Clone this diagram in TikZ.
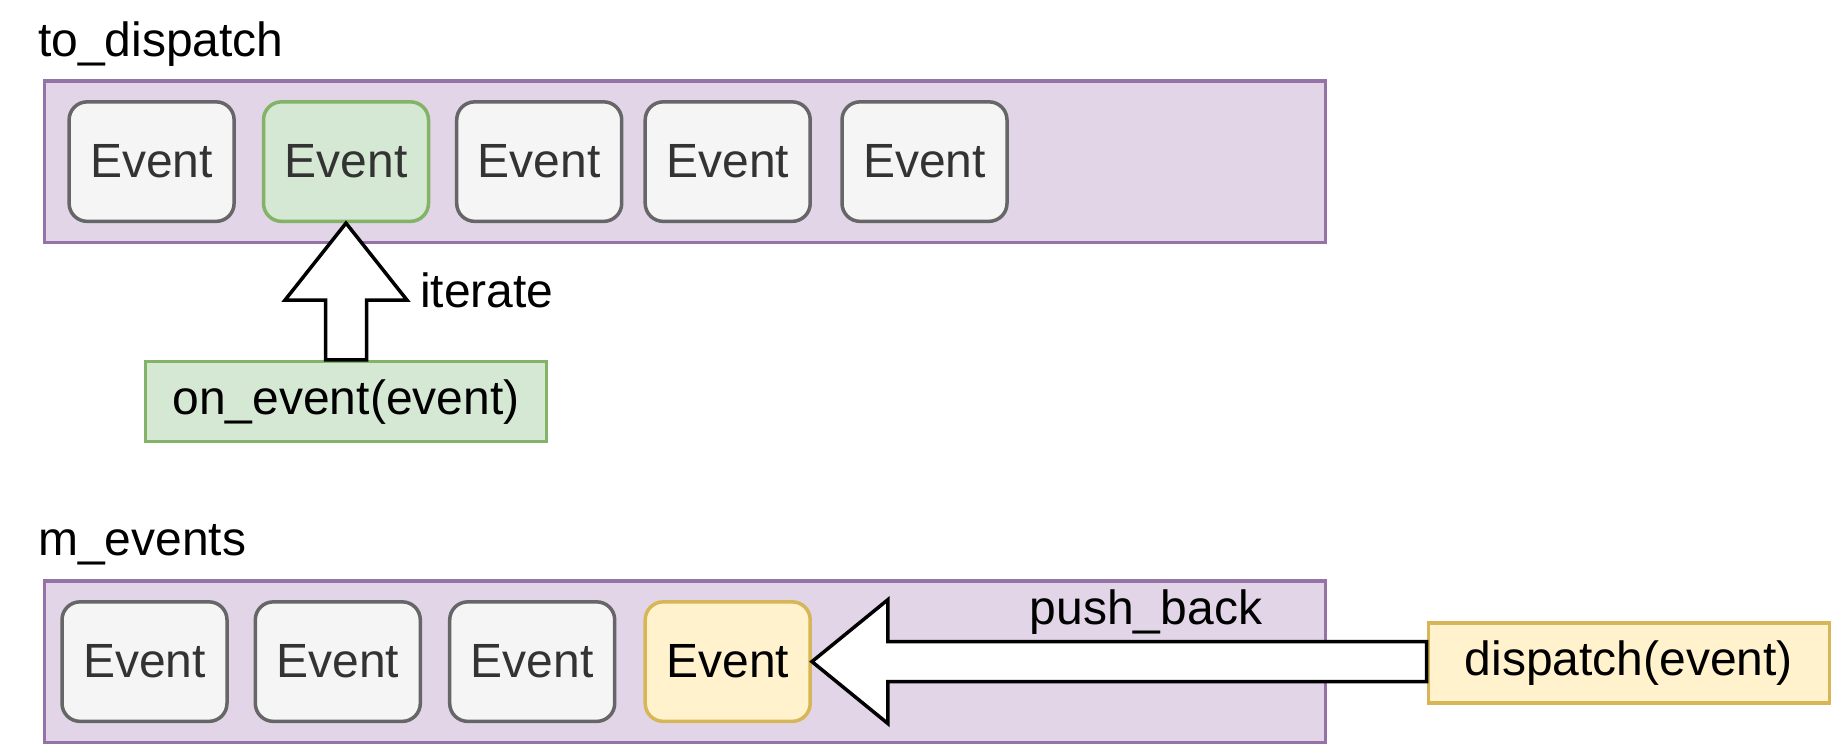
\documentclass[tikz,border=0pt]{standalone}
\usepackage{fontspec}
\setmainfont{Liberation Sans}
\usetikzlibrary{calc}
\definecolor{purpleS}{HTML}{9673A6}
\definecolor{purpleF}{HTML}{E1D5E7}
\definecolor{grayS}{HTML}{666666}
\definecolor{grayF}{HTML}{F5F5F5}
\definecolor{grayT}{HTML}{333333}
\definecolor{greenS}{HTML}{82B366}
\definecolor{greenF}{HTML}{D5E8D4}
\definecolor{yellowS}{HTML}{D6B656}
\definecolor{yellowF}{HTML}{FFF2CC}
\begin{document}
\begin{tikzpicture}[x=1pt,y=-1pt,
  bigfont/.style={font=\fontsize{48}{57}\selectfont},
  lbl/.style={bigfont, inner sep=0pt},
  container/.style={draw=purpleS, fill=purpleF, line width=3.5pt, minimum width=1281pt, minimum height=161.6pt, inner sep=0pt},
  evbox/.style={draw=grayS, fill=grayF, text=grayT, line width=3.5pt, rounded corners=18pt, minimum width=165pt, minimum height=119.5pt, inner sep=0pt, bigfont},
  evgreen/.style={evbox, draw=greenS, fill=greenF},
  evyellow/.style={evbox, draw=yellowS, fill=yellowF, text=black},
  callbox/.style={line width=3.5pt, minimum width=401pt, minimum height=80pt, inner sep=0pt, bigfont},
  blockarrow/.style={draw=black, fill=white, line width=3.5pt, line join=miter}
]
\useasboundingbox (0,0) rectangle (1836,748);

% containers
\node[container] (top) at (685,161.6) {};
\node[container] (bot) at (685,661.6) {};
\node[lbl, anchor=base west] (tdlbl) at (38,56.7) {to\_dispatch};
\node[lbl, anchor=base west] (melbl) at (38,555) {m\_events};

% top row events
\node[evbox]   (t1) at (151.6,161.6) {Event};
\node[evgreen] (t2) at (346.0,161.6) {Event};
\node[evbox]   (t3) at (539.2,161.6) {Event};
\node[evbox]   (t4) at (727.7,161.6) {Event};
\node[evbox]   (t5) at (924.5,161.6) {Event};

% bottom row events
\node[evbox]    (b1) at (144.5,661.6) {Event};
\node[evbox]    (b2) at (337.8,661.6) {Event};
\node[evbox]    (b3) at (532.2,661.6) {Event};
\node[evyellow] (b4) at (727.7,661.6) {Event};

% call boxes
\node[callbox, draw=greenS, fill=greenF] (onev) at (346.0,401.7) {on\_event(event)};
\node[callbox, draw=yellowS, fill=yellowF] (disp) at (1628.8,662.8) {dispatch(event)};

% up block arrow (iterate)
\coordinate (utip) at (t2.south);
\coordinate (ubase) at (onev.north);
\draw[blockarrow] (utip) -- ($(utip)+(61,77)$) -- ($(utip)+(20.5,77)$)
  -- ($(ubase)+(20.5,0)$) -- ($(ubase)+(-20.5,0)$)
  -- ($(utip)+(-20.5,77)$) -- ($(utip)+(-61,77)$) -- cycle;
\node[lbl, anchor=base west] (iter) at (420,307) {iterate};

% left block arrow (push_back)
\coordinate (ltip) at (b4.east);
\coordinate (lend) at (disp.west |- b4.east);
\draw[blockarrow] (ltip) -- ($(ltip)+(76,-62)$) -- ($(ltip)+(76,-20)$)
  -- ($(lend)+(0,-20)$) -- ($(lend)+(0,20)$)
  -- ($(ltip)+(76,20)$) -- ($(ltip)+(76,62)$) -- cycle;
\node[lbl, anchor=base] (push) at (1146,624) {push\_back};
\end{tikzpicture}
\end{document}
